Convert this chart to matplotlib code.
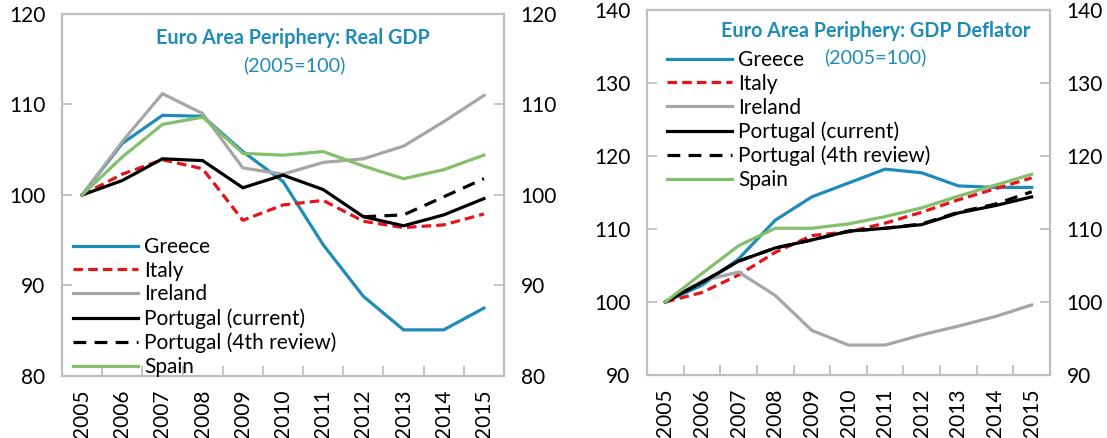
import matplotlib
matplotlib.use("Agg")
import matplotlib.pyplot as plt
import numpy as np

plt.rcParams['font.family'] = ['Lato', 'DejaVu Sans']

years = ["2005", "2006", "2007", "2008", "2009", "2010", "2011", "2012", "2013", "2014", "2015"]
series_names = ["Greece", "Italy", "Ireland", "Portugal (current)", "Portugal (4th review)", "Spain"]

# Real GDP (2005=100)
gdp_greece = [100, 105.7, 108.8, 108.7, 104.8, 101.5, 94.5, 88.8, 85.1, 85.1, 87.5]
gdp_italy = [100, 102.3, 103.9, 102.9, 97.2, 98.9, 99.4, 97.1, 96.4, 96.7, 97.9]
gdp_ireland = [100, 105.9, 111.2, 109.0, 103.0, 102.3, 103.6, 104.0, 105.4, 108.1, 111.0]
gdp_portugal_cur = [100, 101.6, 104.0, 103.8, 100.8, 102.2, 100.6, 97.6, 96.6, 97.8, 99.6]
gdp_portugal_4th = [np.nan, np.nan, np.nan, np.nan, np.nan, np.nan, np.nan, 97.6, 97.8, 99.8, 101.8]
gdp_spain = [100, 104.2, 107.8, 108.6, 104.6, 104.4, 104.8, 103.2, 101.8, 102.8, 104.4]

# GDP Deflator (2005=100)
def_greece = [100, 102.3, 105.9, 111.2, 114.4, 116.3, 118.2, 117.7, 115.9, 115.7, 115.7]
def_italy = [100, 101.3, 103.7, 106.8, 109.1, 109.6, 110.8, 112.3, 114.0, 115.5, 117.0]
def_ireland = [100, 102.9, 104.1, 100.9, 96.1, 94.1, 94.1, 95.5, 96.7, 98.0, 99.6]
def_portugal_cur = [100, 102.7, 105.6, 107.4, 108.5, 109.7, 110.1, 110.6, 112.2, 113.2, 114.4]
def_portugal_4th = [100, 102.7, 105.6, 107.4, 108.5, 109.7, 110.1, 110.7, 112.3, 113.4, 115.1]
def_spain = [100, 103.9, 107.7, 110.1, 110.1, 110.7, 111.7, 112.9, 114.5, 116.0, 117.5]

styles = [
    dict(color="#1E8BB8", ls="-"),
    dict(color="#E3141B", ls=(0, (3, 1.6))),
    dict(color="#A6A6A6", ls="-"),
    dict(color="#000000", ls="-"),
    dict(color="#000000", ls=(0, (4, 2.6))),
    dict(color="#84BF6C", ls="-"),
]

W, H = 1107, 438
fig = plt.figure(figsize=(W / 100, H / 100), dpi=100)

def px_axes(x0, y0, x1, y1):
    return fig.add_axes([x0 / W, 1 - y1 / H, (x1 - x0) / W, (y1 - y0) / H])

frame_col = "#BFBFBF"
title_col = "#1E8BB8"
fs = 15
tfs = 14.2

def make_panel(rect, data, ylim, yticks, title, tpos, spos, legend_anchor):
    ax = px_axes(*rect)
    x = np.arange(len(years))
    handles = []
    for name, vals, st in zip(series_names, data, styles):
        h, = ax.plot(x, vals, color=st["color"], linestyle=st["ls"], lw=2.3,
                     label=name, solid_joinstyle="miter")
        handles.append(h)
    ax.set_xlim(-0.5, len(years) - 0.5)
    ax.set_ylim(*ylim)
    ax.set_yticks(yticks)
    ax.set_yticklabels([str(v) for v in yticks], fontsize=fs)
    ax.set_xticks(x)
    ax.set_xticklabels(years, rotation=90, fontsize=fs)
    ax.tick_params(axis="x", length=0, pad=10)
    ax.set_xticks(np.arange(len(years) - 1) + 0.5, minor=True)
    ax.tick_params(axis="x", which="minor", direction="in", length=7, width=1.3, color=frame_col)
    ax.tick_params(axis="y", direction="in", length=7, width=1.3, color=frame_col, pad=12)
    for sp in ax.spines.values():
        sp.set_color(frame_col)
        sp.set_linewidth(1.6)
    ax2 = ax.twinx()
    ax2.set_ylim(*ylim)
    ax2.set_yticks(yticks)
    ax2.set_yticklabels([str(v) for v in yticks], fontsize=fs)
    ax2.tick_params(axis="y", direction="in", length=7, width=1.3, color=frame_col, pad=12)
    for sp in ax2.spines.values():
        sp.set_visible(False)
    fig.text(tpos[0] / W, 1 - tpos[1] / H, title, color=title_col, fontsize=tfs,
             fontweight="bold", ha="center", va="center")
    fig.text(spos[0] / W, 1 - spos[1] / H, "(2005=100)", color=title_col, fontsize=tfs,
             ha="center", va="center")
    ax.legend(handles=handles, loc="upper left",
              bbox_to_anchor=(legend_anchor[0] / W, 1 - legend_anchor[1] / H),
              bbox_transform=fig.transFigure, frameon=False, fontsize=fs,
              handlelength=3.1, handletextpad=0.3, labelspacing=0.18,
              borderpad=0, borderaxespad=0)
    return ax

make_panel((62, 14, 504, 376),
           [gdp_greece, gdp_italy, gdp_ireland, gdp_portugal_cur, gdp_portugal_4th, gdp_spain],
           (80, 120), [80, 90, 100, 110, 120],
           "Euro Area Periphery: Real GDP", (293, 38), (294, 65), (73, 237))

make_panel((647, 10, 1050, 375),
           [def_greece, def_italy, def_ireland, def_portugal_cur, def_portugal_4th, def_spain],
           (90, 140), [90, 100, 110, 120, 130, 140],
           "Euro Area Periphery: GDP Deflator", (876, 31), (875, 57), (667, 50))

fig.savefig("out.png", dpi=100)
